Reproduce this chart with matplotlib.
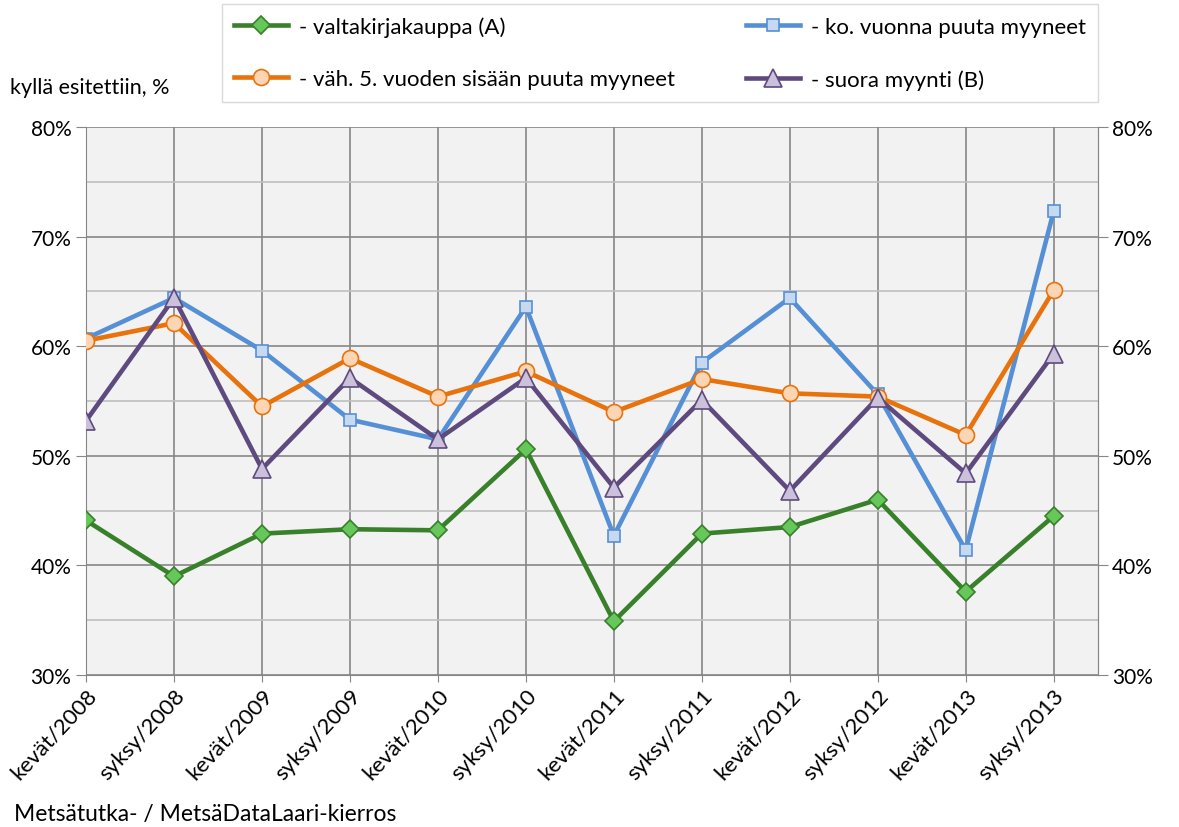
import matplotlib.pyplot as plt
from matplotlib.ticker import MultipleLocator, PercentFormatter

plt.rcParams['font.family'] = ['Lato', 'DejaVu Sans']

kaudet = ['kevät/2008', 'syksy/2008', 'kevät/2009', 'syksy/2009', 'kevät/2010', 'syksy/2010',
          'kevät/2011', 'syksy/2011', 'kevät/2012', 'syksy/2012', 'kevät/2013', 'syksy/2013']
valtakirja = [44.1, 39.0, 42.9, 43.3, 43.2, 50.6, 34.9, 42.9, 43.5, 46.0, 37.6, 44.5]
ko_vuonna = [60.7, 64.4, 59.6, 53.3, 51.5, 63.6, 42.7, 58.5, 64.4, 55.6, 41.4, 72.3]
vah5 = [60.5, 62.1, 54.5, 58.9, 55.4, 57.7, 54.0, 57.0, 55.7, 55.4, 51.9, 65.1]
suora = [53.2, 64.4, 48.8, 57.1, 51.5, 57.1, 47.1, 55.1, 46.8, 55.3, 48.4, 59.3]

fig = plt.figure(figsize=(11.79, 8.28), dpi=100)
ax = fig.add_axes([0.073, 0.1836, 0.858, 0.6618])
ax.set_facecolor('#f2f2f2')

x = range(len(kaudet))
lw = 3.3
ms = 10
hA, = ax.plot(x, valtakirja, color='#38802a', lw=lw, marker='D', ms=ms - 1,
              mfc='#66c75a', mec='#38802a', mew=1.2, label='- valtakirjakauppa (A)', zorder=3)
hK, = ax.plot(x, ko_vuonna, color='#5590d6', lw=lw, marker='s', ms=ms - 1,
              mfc='#c6d9f1', mec='#5590d6', mew=1.2, label='- ko. vuonna puuta myyneet', zorder=4)
hV, = ax.plot(x, vah5, color='#e8720c', lw=lw, marker='o', ms=ms + 1.5,
              mfc='#fcd5b4', mec='#e8720c', mew=1.2, label='- väh. 5. vuoden sisään puuta myyneet', zorder=5)
hS, = ax.plot(x, suora, color='#5e4a7e', lw=lw, marker='^', ms=ms + 2.5,
              mfc='#ccc1da', mec='#5e4a7e', mew=1.2, label='- suora myynti (B)', zorder=6)

ax.set_xlim(0, 11.5)
ax.set_ylim(30, 80)
ax.yaxis.set_major_locator(MultipleLocator(10))
ax.yaxis.set_minor_locator(MultipleLocator(5))
ax.yaxis.set_major_formatter(PercentFormatter(decimals=0))
ax.set_xticks(list(x))
ax.set_xticklabels(kaudet, rotation=47, ha='right', rotation_mode='anchor', fontsize=16)
ax.tick_params(axis='y', which='major', labelsize=15, length=7, color='#868686')
ax.tick_params(axis='y', which='minor', length=0)
ax.tick_params(axis='x', length=5, color='#868686', pad=2)
ax.grid(which='major', color='#868686', lw=1.2)
ax.grid(which='minor', axis='y', color='#bfbfbf', lw=1.2)
ax.set_axisbelow(True)
for s in ax.spines.values():
    s.set_color('#868686')
ax.spines['top'].set_visible(False)

ax2 = ax.twinx()
ax2.set_ylim(30, 80)
ax2.yaxis.set_major_locator(MultipleLocator(10))
ax2.yaxis.set_major_formatter(PercentFormatter(decimals=0))
ax2.tick_params(axis='y', labelsize=15, length=7, color='#868686')
for s in ax2.spines.values():
    s.set_visible(False)
ax2.spines['right'].set_visible(True)
ax2.spines['right'].set_color('#868686')

fig.legend(handles=[hA, hV, hK, hS], ncol=2, loc='upper left',
           bbox_to_anchor=(222 / 1179, 1 - 100 / 828, (1098 - 222) / 1179, 95 / 828),
           mode='expand', borderaxespad=0, fontsize=16, frameon=True, fancybox=False,
           edgecolor='#d0d0d0', handlelength=2.4, columnspacing=0.3,
           borderpad=0.55, labelspacing=1.45, handletextpad=0.5)

fig.text(10 / 1179, 1 - 88 / 828, 'kyllä esitettiin, %', fontsize=15.5, va='center')
fig.text(14 / 1179, 1 - 815 / 828, 'Metsätutka- / MetsäDataLaari-kierros', fontsize=16.5, va='center')

fig.savefig('out.png', dpi=100)
